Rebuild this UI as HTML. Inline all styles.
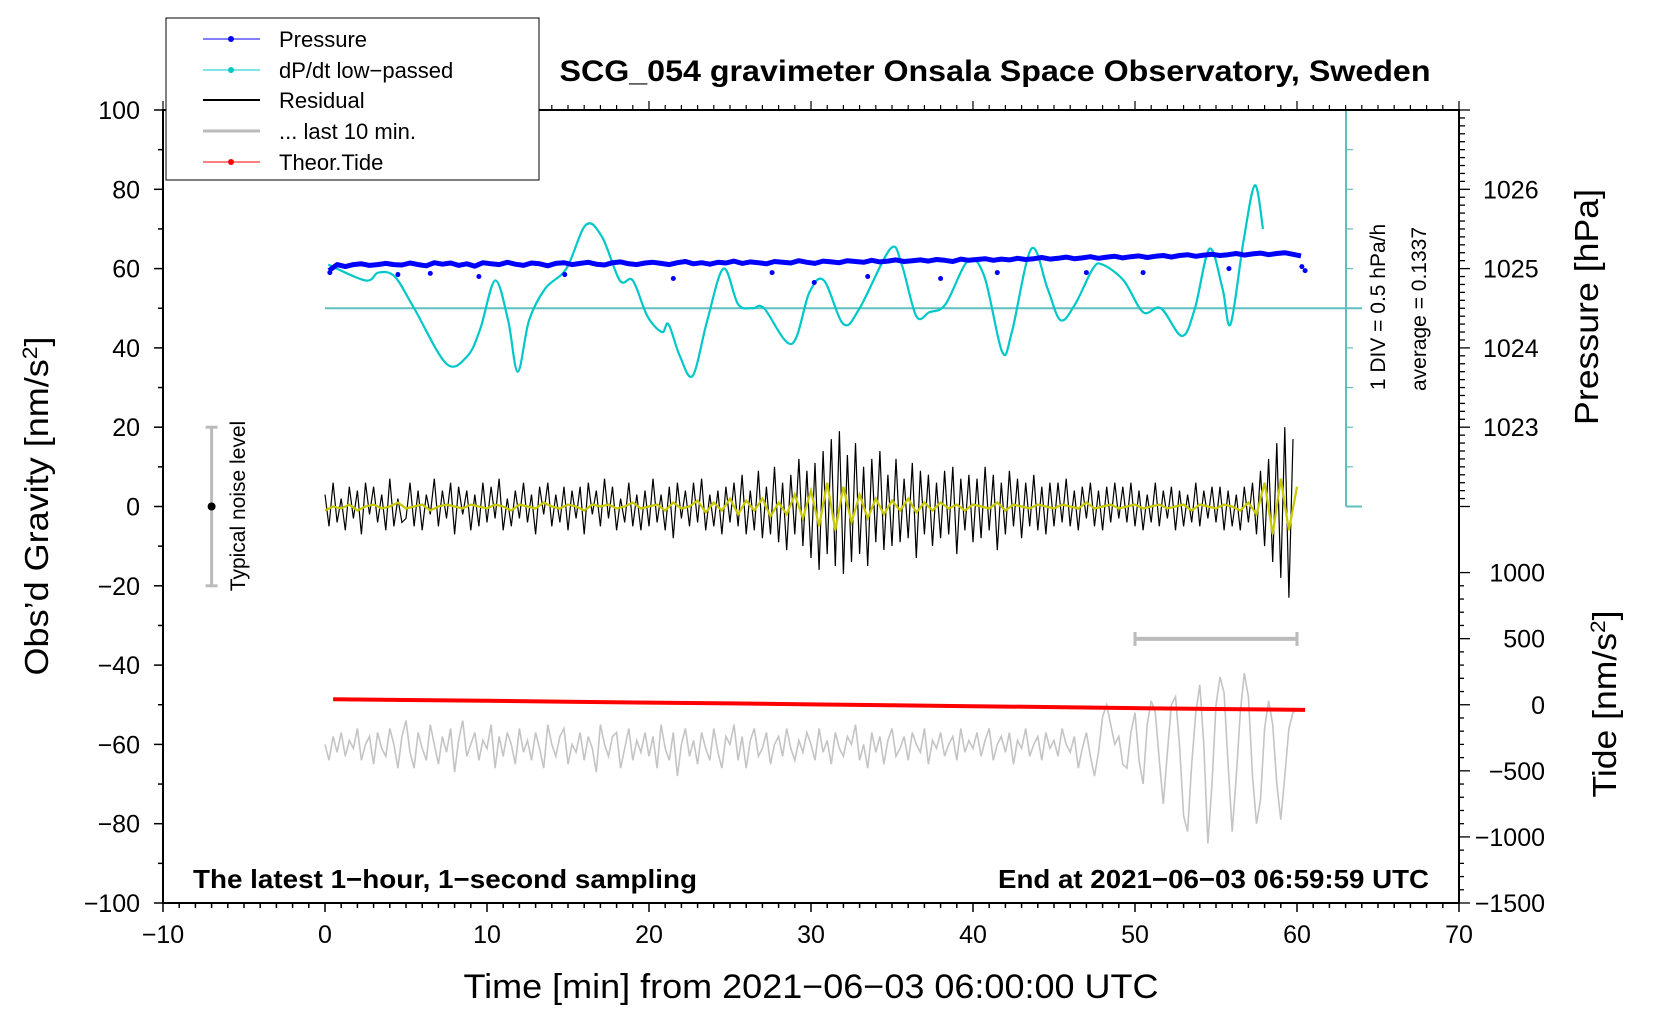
<!DOCTYPE html>
<html><head><meta charset="utf-8"><style>
html,body{margin:0;padding:0;background:#fff;}
svg{display:block;font-family:"Liberation Sans",Arial,sans-serif;}
</style></head><body>
<svg id="chart" width="1660" height="1020" viewBox="0 0 1660 1020" xmlns="http://www.w3.org/2000/svg">
<rect width="1660" height="1020" fill="#fff"/>
<g id="ticks"></g>
<g id="marks"></g>
<rect x="163" y="110" width="1296" height="793" fill="none" stroke="#000" stroke-width="2"/>
<text x="995" y="81" font-size="30" font-weight="bold" text-anchor="middle" textLength="871" lengthAdjust="spacingAndGlyphs">SCG_054 gravimeter Onsala Space Observatory, Sweden</text>
<text transform="translate(48,506) rotate(-90)" font-size="33" text-anchor="middle" textLength="339" lengthAdjust="spacingAndGlyphs">Obs’d Gravity [nm/s<tspan font-size="21" baseline-shift="super">2</tspan>]</text>
<text transform="translate(1598,307) rotate(-90)" font-size="33" text-anchor="middle" textLength="236" lengthAdjust="spacingAndGlyphs">Pressure [hPa]</text>
<text transform="translate(1616,704) rotate(-90)" font-size="33" text-anchor="middle" textLength="187" lengthAdjust="spacingAndGlyphs">Tide [nm/s<tspan font-size="21" baseline-shift="super">2</tspan>]</text>
<text x="811" y="998" font-size="34" text-anchor="middle" textLength="695" lengthAdjust="spacingAndGlyphs">Time [min] from 2021−06−03 06:00:00 UTC</text>
<text x="193" y="888" font-size="26" font-weight="bold" textLength="504" lengthAdjust="spacingAndGlyphs">The latest 1−hour, 1−second sampling</text>
<text x="998" y="888" font-size="26" font-weight="bold" textLength="431" lengthAdjust="spacingAndGlyphs">End at 2021−06−03 06:59:59 UTC</text>
<text transform="translate(1385,307) rotate(-90)" font-size="21" text-anchor="middle">1 DIV = 0.5 hPa/h</text>
<text transform="translate(1426,309) rotate(-90)" font-size="21" text-anchor="middle">average = 0.1337</text>
<text transform="translate(245,506) rotate(-90)" font-size="21" text-anchor="middle">Typical noise level</text>
<g>
<rect x="166" y="18" width="373" height="162" fill="#fff" stroke="#000" stroke-width="1"/>
<line x1="203" y1="39" x2="260" y2="39" stroke="#00f" stroke-width="1"/><circle cx="231" cy="39" r="3" fill="#00f"/>
<text x="279" y="47" font-size="22">Pressure</text>
<line x1="203" y1="70" x2="260" y2="70" stroke="#00c8c8" stroke-width="1"/><circle cx="231" cy="70" r="3" fill="#00c8c8"/>
<text x="279" y="78" font-size="22">dP/dt low−passed</text>
<line x1="203" y1="100" x2="260" y2="100" stroke="#000" stroke-width="2"/>
<text x="279" y="108" font-size="22">Residual</text>
<line x1="203" y1="131" x2="260" y2="131" stroke="#bbb" stroke-width="3"/>
<text x="279" y="139" font-size="22">... last 10 min.</text>
<line x1="203" y1="162" x2="260" y2="162" stroke="#f00" stroke-width="1"/><circle cx="231" cy="162" r="3" fill="#f00"/>
<text x="279" y="170" font-size="22">Theor.Tide</text>
</g>
</svg>
<script>
const xTicks=[-10,0,10,20,30,40,50,60,70];
const gTicks=[100,80,60,40,20,0,-20,-40,-60,-80,-100];
const pTicks=[1026,1025,1024,1023];
const tideTicks=[1000,500,0,-500,-1000,-1500];
const dpT=[0.2,2.5,3.3,4.3,5.5,7.5,8.8,9.6,10.5,11.3,11.9,12.6,13.6,14.9,16.1,17.1,18.2,19.0,19.9,20.8,21.2,21.9,22.7,23.6,24.6,25.5,26.4,27.1,28.8,29.9,30.8,32.0,33.0,34.9,35.6,36.5,37.3,38.3,39.7,40.7,41.8,42.4,43.6,44.6,45.4,46.3,47.4,48.0,49.3,50.5,51.6,52.9,53.7,54.6,55.4,55.9,56.7,57.4,57.9];
const dpV=[61,57,59,58,50,36,38,45,57,47,34,47,55,60,71,68,57,57,48,44,46,38,33,47,60,51,50,50,41,54,57,46,50,65,61,48,49,51,62,58,39,44,65,55,47,51,60,61,57,49,50,43,50,65,55,46,67,81,70];
const pres=[59.5,61,60.5,61,61.2,60.8,61,61.3,61,60.9,61.4,61,60.7,61.5,61.1,61.4,60.8,61.2,60.6,61.5,61.2,61,61.6,61.1,60.8,61.4,61.2,60.7,61.3,61.5,61,61.3,61.6,61.1,60.9,61.5,61.7,61.2,61,61.4,61.6,61.3,61,61.5,61.8,61.2,61.5,61.1,61.6,61.4,61.9,61.3,61.7,61.5,61.2,61.8,61.6,61.4,62,61.6,61.3,61.9,61.7,61.5,62,61.8,61.6,62.1,61.7,61.9,62.2,61.8,62,62.2,61.9,62.3,62.1,61.8,62.4,62.1,62.3,62.5,62.1,62.4,62.2,62.6,62.3,62.5,62.8,62.4,62.6,62.9,62.5,62.7,63,62.6,62.9,63.1,62.7,63,63.2,62.8,63.1,63.3,62.9,63.3,63.5,63.1,63.4,63.6,63.3,63.5,63.8,63.4,63.7,63.9,63.5,63.8,64,63.6,63.2];
const presOutT=[0.3,4.5,6.5,9.5,14.8,21.5,27.6,30.2,33.5,38.0,41.5,47.0,50.5,55.8,60.3,60.5];
const presOutV=[59,58.5,58.8,58,58.5,57.5,59,56.5,58,57.5,59,59,59,60,60.5,59.5];
const resid=[3,-5,6,-4,2,-6,5,-3,4,-7,6,-2,5,-4,3,-6,7,-5,2,-4,-3,6,-5,4,-6,3,-2,7,-5,4,-3,6,-7,5,-2,4,-6,3,-5,6,-4,5,-3,7,-6,2,-5,4,-3,6,-4,3,-7,5,-2,6,-5,3,-4,5,-6,4,-3,5,-7,6,-2,4,-5,7,-3,5,-6,2,-4,6,-5,3,-6,4,-5,7,-4,3,-6,5,-8,6,-3,4,-5,6,-4,7,-6,3,-5,4,-7,5,-4,6,-5,8,-7,4,-6,9,-8,5,-7,10,-9,6,-11,8,-7,12,-10,9,-13,11,-16,14,-12,17,-15,19,-17,13,-14,16,-12,10,-15,12,-9,14,-11,8,-10,12,-9,7,-8,11,-13,9,-7,8,-10,6,-8,9,-7,10,-12,7,-6,8,-9,7,-8,10,-6,8,-11,6,-7,9,-5,7,-8,6,-5,8,-6,5,-7,6,-5,6,-4,7,-5,4,-6,5,-3,6,-5,4,-6,5,-4,6,-3,5,-4,6,-5,4,-6,3,-4,6,-5,4,-3,5,-6,4,-5,3,-4,6,-5,4,-3,5,-4,5,-6,4,-5,3,-6,5,-4,6,-7,9,-10,12,-14,16,-18,20,-23,17];
const smooth=[-1,0,-0.5,0.5,-1,0,0.5,-0.5,0,1,-0.5,0,0.5,-1,0,0.5,0,-0.5,0.5,0,-0.5,0.5,0,-1,0.5,0,-0.5,1,0,-0.5,0.5,0,-1,0.5,0,0.5,-0.5,0,1,-0.5,0,0.5,-1,1,-0.5,0,1.5,-1.5,1,-1,2,-2,1.5,-1,2,-2.5,1,-2,3,-3,4,-5,6,-6,5,-4,3,-3,2,-2,1.5,-1,2,-1.5,1,-1,1,-0.5,0.5,-1,0.5,0,-0.5,1,-1,0.5,0,-0.5,0.5,0,-0.5,0.5,0,-0.5,1,-0.5,0,0.5,-0.5,0,0.5,-0.5,0,0.5,-0.5,0,0.5,-1,0.5,0,-0.5,0.5,0,-1,1,-2,6,-7,7,-6,5];
const last10=[-60,-64,-58,-62,-57,-63,-59,-61,-56,-64,-60,-58,-65,-57,-61,-63,-56,-60,-66,-58,-54,-62,-66,-57,-61,-64,-55,-60,-65,-58,-62,-56,-67,-59,-54,-63,-60,-57,-64,-59,-61,-55,-66,-58,-63,-57,-60,-65,-56,-62,-59,-64,-57,-61,-66,-55,-60,-63,-58,-56,-65,-60,-62,-57,-64,-58,-61,-67,-55,-60,-63,-58,-57,-66,-61,-56,-64,-59,-62,-57,-63,-58,-66,-55,-61,-64,-57,-68,-60,-56,-63,-59,-65,-57,-61,-64,-56,-62,-66,-58,-60,-55,-64,-58,-66,-59,-56,-63,-61,-57,-65,-60,-58,-63,-56,-61,-64,-59,-62,-57,-60,-64,-56,-62,-59,-65,-57,-61,-63,-58,-60,-55,-64,-60,-66,-57,-62,-58,-65,-59,-56,-63,-61,-58,-64,-57,-60,-62,-56,-65,-59,-61,-57,-63,-60,-58,-64,-56,-62,-59,-61,-57,-63,-59,-56,-64,-60,-58,-62,-57,-65,-59,-61,-56,-63,-60,-58,-64,-57,-61,-59,-63,-56,-60,-62,-58,-66,-61,-57,-63,-68,-62,-53,-50,-55,-60,-58,-65,-66,-57,-52,-64,-70,-55,-49,-52,-64,-75,-62,-50,-48,-60,-78,-82,-65,-52,-45,-60,-85,-70,-50,-43,-47,-65,-82,-68,-52,-42,-48,-68,-80,-74,-56,-49,-55,-70,-79,-68,-56,-52,-51];
const tideT=[0.5,5,10,15,20,25,30,35,40,45,50,55,60.5];
const tideV=[42,36,30,23,16,10,3,-4,-11,-18,-25,-32,-39];

const NS='http://www.w3.org/2000/svg';
const X=t=>163+(t+10)*16.2;
const Y=g=>110+(100-g)*3.965;
const YP=p=>Y(80+(p-1026)*20);
const YT=v=>Y(-50+v/30);
const tk=document.getElementById('ticks'), mk=document.getElementById('marks');
function el(tag,attrs,parent){const e=document.createElementNS(NS,tag);for(const k in attrs)e.setAttribute(k,attrs[k]);(parent||mk).appendChild(e);return e;}
function line(x1,y1,x2,y2,c,w){return el('line',{x1,y1,x2,y2,stroke:c,'stroke-width':w},tk);}
for(let t=-10;t<=70;t++){const mj=t%10===0;line(X(t),903,X(t),903+(mj?9:5),'#000',1.5);line(X(t),110,X(t),110-(mj?9:5),'#000',1.2);}
xTicks.forEach(t=>{const e=el('text',{x:X(t),y:943,'font-size':25,'text-anchor':'middle'},tk);e.textContent=String(t).replace('-','−');

});
for(let g=-100;g<=100;g+=10){line(163,Y(g),163-(g%20===0?9:5),Y(g),'#000',1.5);}
gTicks.forEach(g=>{const e=el('text',{x:140,y:Y(g)+9,'font-size':25,'text-anchor':'end'},tk);e.textContent=String(g).replace('-','−');

});
for(let g=100;g>=0;g-=2){line(1459,Y(g),1459+(g%20===0?11:6),Y(g),'#000',1.3);}
pTicks.forEach(p=>{const e=el('text',{x:1483,y:YP(p)+9,'font-size':25},tk);e.textContent=p;

});
for(let v=1000;v>=-1500;v-=100){line(1459,YT(v),1459+(v%500===0?11:5),YT(v),'#000',1.3);}
tideTicks.forEach(v=>{const e=el('text',{x:1545,y:YT(v)+9,'font-size':25,'text-anchor':'end'},tk);e.textContent=String(v).replace('-','−');

});
const cy='#5fbfbf';
el('line',{x1:1346,y1:Y(100),x2:1346,y2:Y(0),stroke:cy,'stroke-width':2});
for(let g=0;g<=100;g+=10){el('line',{x1:1346,y1:Y(g),x2:g===0?1362:1353,y2:Y(g),stroke:cy,'stroke-width':g===0?2:1.2});}
el('line',{x1:X(0),y1:Y(50),x2:1362,y2:Y(50),stroke:cy,'stroke-width':2});
el('line',{x1:X(-7),y1:Y(20),x2:X(-7),y2:Y(-20),stroke:'#bbb','stroke-width':3});
el('line',{x1:X(-7)-6,y1:Y(20),x2:X(-7)+6,y2:Y(20),stroke:'#bbb','stroke-width':3});
el('line',{x1:X(-7)-6,y1:Y(-20),x2:X(-7)+6,y2:Y(-20),stroke:'#bbb','stroke-width':3});
el('circle',{cx:X(-7),cy:Y(0),r:4,fill:'#000'});
el('line',{x1:X(50),y1:Y(-33.4),x2:X(60),y2:Y(-33.4),stroke:'#bbb','stroke-width':4});
el('line',{x1:X(50),y1:Y(-33.4)-7,x2:X(50),y2:Y(-33.4)+7,stroke:'#bbb','stroke-width':3});
el('line',{x1:X(60),y1:Y(-33.4)-7,x2:X(60),y2:Y(-33.4)+7,stroke:'#bbb','stroke-width':3});
function poly(ts,vs,yf){return ts.map((t,i)=>X(t).toFixed(1)+','+yf(vs[i]).toFixed(1)).join(' ');}
function smoothPath(ts,vs,yf){const p=ts.map((t,i)=>[X(t),yf(vs[i])]);let d='M'+p[0][0]+','+p[0][1];
for(let i=0;i<p.length-1;i++){const p0=p[Math.max(0,i-1)],p1=p[i],p2=p[i+1],p3=p[Math.min(p.length-1,i+2)];
d+=' C'+(p1[0]+(p2[0]-p0[0])/6)+','+(p1[1]+(p2[1]-p0[1])/6)+' '+(p2[0]-(p3[0]-p1[0])/6)+','+(p2[1]-(p3[1]-p1[1])/6)+' '+p2[0]+','+p2[1];}return d;}
const gT=last10.map((_,i)=>i*0.25);
const gl=el('polyline',{points:poly(gT,last10,Y),fill:'none',stroke:'#c4c4c4','stroke-width':1.6});


const dp=el('path',{d:smoothPath(dpT,dpV,Y),fill:'none',stroke:'#00c8c8','stroke-width':2.2});


const pT=pres.map((_,i)=>0.25+i*0.5);
const pl=el('polyline',{points:poly(pT,pres,Y),fill:'none',stroke:'#0000ff','stroke-width':5,'stroke-linejoin':'round'});


presOutT.forEach((t,i)=>{const c=el('circle',{cx:X(t),cy:Y(presOutV[i]),r:2.5,fill:'#00f'});

});
const rT=resid.map((_,i)=>i*0.25);
const rl=el('polyline',{points:poly(rT,resid,Y),fill:'none',stroke:'#000','stroke-width':1.2});


const sT=smooth.map((_,i)=>i*0.5);
const sl=el('polyline',{points:poly(sT,smooth,Y),fill:'none',stroke:'#c8c800','stroke-width':2.2});


const tl=el('polyline',{points:poly(tideT,tideV,YT),fill:'none',stroke:'#ff0000','stroke-width':4});


</script>
</body></html>
